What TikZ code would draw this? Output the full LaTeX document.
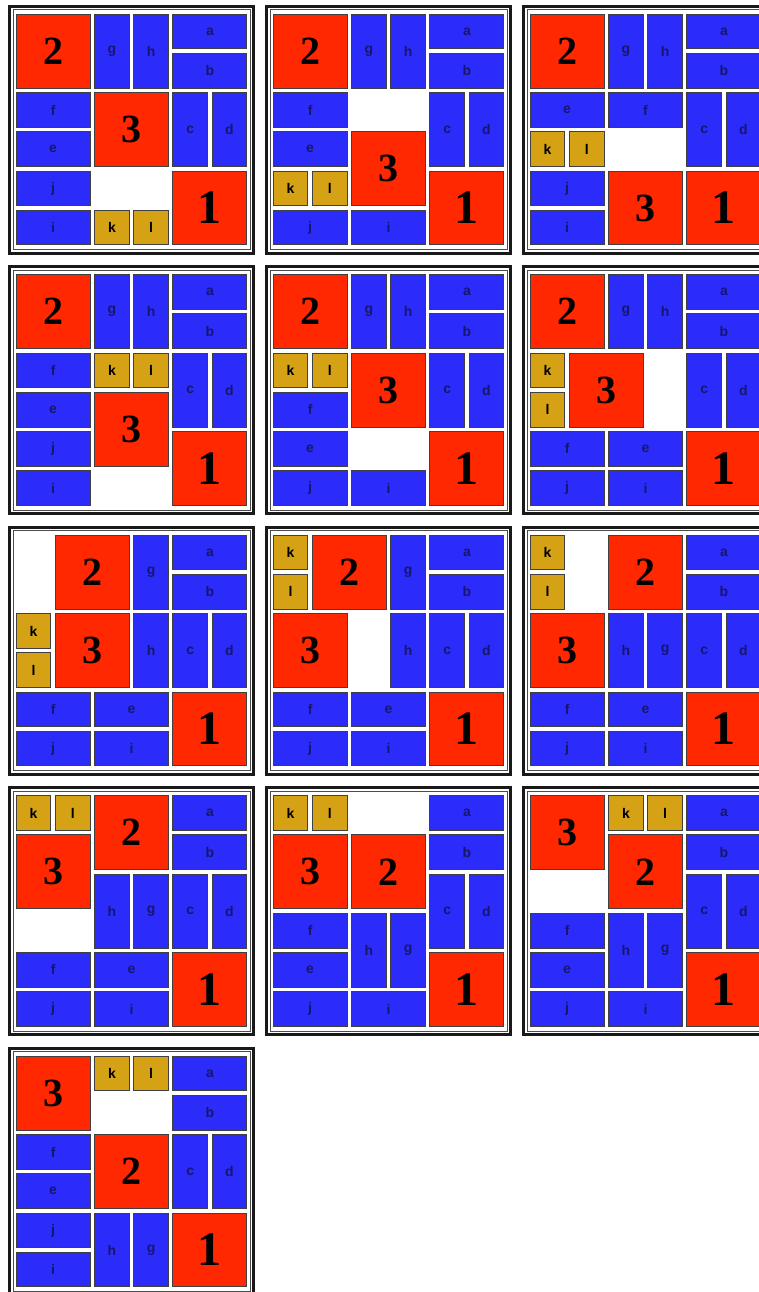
\documentclass[tikz,border=0pt]{standalone}
\usepackage{fontspec}
\setmainfont{Liberation Serif}
\setsansfont{Liberation Sans}
\usepackage{xcolor}
\usepackage{tikz}
\definecolor{piecered}{RGB}{255,40,0}
\definecolor{pieceblue}{RGB}{44,44,250}
\definecolor{piecegold}{RGB}{212,162,20}
\definecolor{labelnavy}{RGB}{22,22,110}

\begin{document}
\begin{tikzpicture}[x=0.5pt, y=-0.5pt,
    block/.style={draw=black!75, line width=0.5pt, rectangle, inner sep=0pt, outer sep=0pt, anchor=north west},
    redsq/.style={block, fill=piecered, minimum width=36.95pt, minimum height=36.95pt, font=\bfseries\fontsize{20}{20}\selectfont},
    onesq/.style={redsq, font=\bfseries\fontsize{24}{24}\selectfont},
    hbar/.style={block, fill=pieceblue, minimum width=36.95pt, minimum height=17.35pt, text=labelnavy, font=\sffamily\bfseries\fontsize{7}{7}\selectfont},
    vbar/.style={hbar, minimum width=17.35pt, minimum height=36.95pt},
    goldsq/.style={block, fill=piecegold, minimum width=17.35pt, minimum height=17.35pt, text=black, font=\sffamily\bfseries\fontsize{7}{7}\selectfont},
    boardframe/.style={draw=black!90, line width=1.5pt, rectangle, inner sep=0pt, outer sep=0pt, anchor=north west, minimum width=122pt, minimum height=123.5pt},
    boardrim/.style={draw=black!70, line width=0.45pt, rectangle, inner sep=0pt, outer sep=0pt, anchor=north west, minimum width=118.5pt, minimum height=120pt}
]
    \useasboundingbox (0,0) rectangle (759,1292);

    \foreach \bn/\bx/\by/\moving in {
        1/8/4.5/{2/redsq/0/0, g/vbar/2/0, h/vbar/3/0, f/hbar/0/2, e/hbar/0/3, 3/redsq/2/2, j/hbar/0/4, i/hbar/0/5, k/goldsq/2/5, l/goldsq/3/5},
        2/265/4.5/{2/redsq/0/0, g/vbar/2/0, h/vbar/3/0, f/hbar/0/2, e/hbar/0/3, 3/redsq/2/3, k/goldsq/0/4, l/goldsq/1/4, j/hbar/0/5, i/hbar/2/5},
        3/522/4.5/{2/redsq/0/0, g/vbar/2/0, h/vbar/3/0, e/hbar/0/2, f/hbar/2/2, k/goldsq/0/3, l/goldsq/1/3, j/hbar/0/4, i/hbar/0/5, 3/redsq/2/4},
        4/8/265/{2/redsq/0/0, g/vbar/2/0, h/vbar/3/0, f/hbar/0/2, k/goldsq/2/2, l/goldsq/3/2, e/hbar/0/3, 3/redsq/2/3, j/hbar/0/4, i/hbar/0/5},
        5/265/265/{2/redsq/0/0, g/vbar/2/0, h/vbar/3/0, k/goldsq/0/2, l/goldsq/1/2, 3/redsq/2/2, f/hbar/0/3, e/hbar/0/4, j/hbar/0/5, i/hbar/2/5},
        6/522/265/{2/redsq/0/0, g/vbar/2/0, h/vbar/3/0, k/goldsq/0/2, l/goldsq/0/3, 3/redsq/1/2, f/hbar/0/4, e/hbar/2/4, j/hbar/0/5, i/hbar/2/5},
        7/8/525.5/{2/redsq/1/0, g/vbar/3/0, k/goldsq/0/2, l/goldsq/0/3, 3/redsq/1/2, h/vbar/3/2, f/hbar/0/4, e/hbar/2/4, j/hbar/0/5, i/hbar/2/5},
        8/265/525.5/{k/goldsq/0/0, l/goldsq/0/1, 2/redsq/1/0, g/vbar/3/0, 3/redsq/0/2, h/vbar/3/2, f/hbar/0/4, e/hbar/2/4, j/hbar/0/5, i/hbar/2/5},
        9/522/525.5/{k/goldsq/0/0, l/goldsq/0/1, 2/redsq/2/0, 3/redsq/0/2, h/vbar/2/2, g/vbar/3/2, f/hbar/0/4, e/hbar/2/4, j/hbar/0/5, i/hbar/2/5},
        10/8/786/{k/goldsq/0/0, l/goldsq/1/0, 2/redsq/2/0, 3/redsq/0/1, h/vbar/2/2, g/vbar/3/2, f/hbar/0/4, e/hbar/2/4, j/hbar/0/5, i/hbar/2/5},
        11/265/786/{k/goldsq/0/0, l/goldsq/1/0, 3/redsq/0/1, 2/redsq/2/1, f/hbar/0/3, h/vbar/2/3, g/vbar/3/3, e/hbar/0/4, j/hbar/0/5, i/hbar/2/5},
        12/522/786/{3/redsq/0/0, k/goldsq/2/0, l/goldsq/3/0, 2/redsq/2/1, f/hbar/0/3, h/vbar/2/3, g/vbar/3/3, e/hbar/0/4, j/hbar/0/5, i/hbar/2/5},
        13/8/1046.5/{3/redsq/0/0, k/goldsq/2/0, l/goldsq/3/0, f/hbar/0/2, e/hbar/0/3, 2/redsq/2/2, j/hbar/0/4, i/hbar/0/5, h/vbar/2/4, g/vbar/3/4}} {
        \node[boardframe] (b\bn) at (\bx+1.5, \by+1.5) {};
        \node[boardrim] (r\bn) at (\bx+5, \by+5) {};
        % pieces that never move
        \foreach \lab/\kind/\c/\r in {a/hbar/4/0, b/hbar/4/1, c/vbar/4/2, d/vbar/5/2, 1/onesq/4/4}
            \node[\kind] (b\bn-\lab) at (\bx+8.15+39.2*\c, \by+9.75+39.2*\r) {\lab};
        \foreach \lab/\kind/\c/\r in \moving
            \node[\kind] (b\bn-\lab) at (\bx+8.15+39.2*\c, \by+9.75+39.2*\r) {\lab};
    }
\end{tikzpicture}
\end{document}
